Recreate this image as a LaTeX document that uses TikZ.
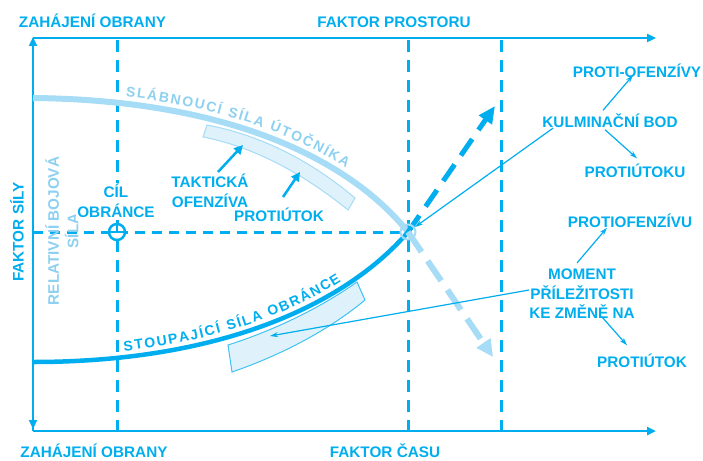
\documentclass[tikz,border=0pt]{standalone}
\usepackage{fontspec}
\setmainfont{Liberation Sans}
\usetikzlibrary{arrows.meta,decorations.text}
\definecolor{cy}{HTML}{00AEEF}
\definecolor{lcy}{HTML}{A6DCF5}
\definecolor{ltx}{HTML}{8DD0F0}
\definecolor{bandfill}{HTML}{DFF2FB}
\newcommand\lbfont{\bfseries\fontsize{15.3}{19.5}\selectfont}
\newcommand\cvfont{\bfseries\fontsize{14}{16}\selectfont}
\begin{document}
\begin{tikzpicture}[x=1pt,y=1pt,
  lbl/.style={font=\lbfont, text=cy, inner sep=0pt, text height=11pt, text depth=0pt},
  mlbl/.style={font=\lbfont, text=cy, inner sep=0pt, align=center},
  axis/.style={draw=cy, line width=2.5pt},
  guide/.style={draw=cy, line width=3pt, dash pattern=on 12pt off 8pt},
  hguide/.style={draw=cy, line width=3pt, dash pattern=on 10pt off 7pt},
  ptr/.style={draw=cy, line width=1.2pt, -{Stealth[length=8pt,width=5pt]}},
  shortarr/.style={draw=cy, line width=2.5pt, -{Triangle[length=9pt,width=9pt]}},
  band/.style={fill=bandfill, line width=1pt},
  tip/.style={-{Triangle[length=9pt,width=8pt]}}
]
\path[use as bounding box] (0,0) rectangle (703,-460);

% axes coordinates
\coordinate (tl) at (33,-38);
\coordinate (tr) at (656,-38);
\coordinate (bl) at (33,-431);
\coordinate (br) at (656,-431);
\coordinate (vt) at (33,-37);
\coordinate (vb) at (33,-429);

% axes
\draw[axis] (tl) -- (bl);
\draw[axis, tip] (tl) -- (tr);
\draw[axis, tip] (bl) -- (br);
\draw[axis, {Triangle[length=9pt,width=8pt]}-{Triangle[length=9pt,width=8pt]}] (vt) -- (vb);

% dashed guides
\coordinate (g1t) at (117,-40);  \coordinate (g1b) at (117,-431);
\coordinate (g2t) at (408,-40);  \coordinate (g2b) at (408,-431);
\coordinate (g3t) at (501,-40);  \coordinate (g3b) at (501,-431);
\coordinate (h0) at (33,-232);
\draw[guide] (g1t) -- (g1b);
\draw[guide] (g2t) -- (g2b);
\draw[guide] (g3t) -- (g3b);
\draw[hguide] (h0) -- (408,-232);

% bands
\draw[band, draw=lcy] (207,-125) .. controls (260,-135) and (310,-160) .. (355,-198)
   -- (348,-210) .. controls (305,-175) and (255,-147) .. (203,-137) -- cycle;
\draw[band, draw=cy!75] (228,-345) .. controls (275,-330) and (320,-308) .. (357,-282)
   -- (365,-300) .. controls (335,-325) and (290,-352) .. (232,-372) -- cycle;

% culmination point
\coordinate (Xc) at (408,-232);
\coordinate (a0) at (33,-98);
\coordinate (d0) at (33,-362);

% curves
\draw[lcy, line width=6pt] (a0) .. controls (230,-100) and (350,-160) .. (Xc);
\draw[cy, line width=4.5pt] (d0) .. controls (220,-362) and (345,-305) .. (Xc);

% curve texts
\path[decorate, decoration={text along path,
   text={|\color{ltx}\cvfont|SLÁBNOUCÍ SÍLA ÚTOČNÍKA},
   text align={fit to path, left indent=92pt, right indent=88pt}, raise=7pt}]
   (a0) .. controls (230,-100) and (350,-160) .. (Xc);
\path[decorate, decoration={text along path,
   text={|\color{cy}\cvfont|STOUPAJÍCÍ SÍLA OBRÁNCE},
   text align={fit to path, left indent=92pt, right indent=84pt}, raise=6pt}]
   (d0) .. controls (220,-362) and (345,-305) .. (Xc);

% dashed arrows from culmination
\coordinate (up) at (495,-106);
\coordinate (down) at (493,-357);
\draw[cy, line width=5pt, dash pattern=on 20pt off 11pt, -{Triangle[length=17pt,width=15pt]}] (Xc) -- (up);
\draw[lcy, line width=6pt, dash pattern=on 24pt off 11pt, -{Triangle[length=17pt,width=16pt]}] (Xc) -- (down);

\node[circle, draw=lcy, line width=2pt, minimum size=15pt, inner sep=0pt] (X) at (Xc) {};

% goal symbol
\node[circle, draw=cy, fill=white, line width=2.5pt, minimum size=16pt, inner sep=0pt] (goal) at (117,-232) {};
\draw[cy, line width=2pt] (goal.west) -- (goal.east);
\draw[cy, line width=2pt] (goal.center) -- (goal.north);

% labels
\node[lbl] (zo1) at (92.5,-22) {ZAHÁJENÍ OBRANY};
\node[lbl] (fp) at (394,-22) {FAKTOR PROSTORU};
\node[lbl] (zo2) at (94,-452) {ZAHÁJENÍ OBRANY};
\node[lbl] (fc) at (385,-452) {FAKTOR ČASU};
\node[lbl, rotate=90] (fs) at (18,-232) {FAKTOR SÍLY};
\node[mlbl, text=ltx, rotate=90] (rbs) at (62,-231) {RELATIVNÍ BOJOVÁ\\SÍLA};
\node[mlbl, fill=white, inner sep=1pt] (cil) at (116,-201) {CÍL\\OBRÁNCE};
\node[mlbl] (tak) at (210,-191) {TAKTICKÁ\\OFENZÍVA};
\node[lbl] (pu1) at (279,-216) {PROTIÚTOK};
\node[lbl] (pov) at (637,-72) {PROTI-OFENZÍVY};
\node[lbl] (kb) at (610,-122) {KULMINAČNÍ BOD};
\node[lbl] (puk) at (635,-172) {PROTIÚTOKU};
\node[lbl] (pof) at (630,-222) {PROTIOFENZÍVU};
\node[mlbl] (mom) at (582,-294) {MOMENT\\PŘÍLEŽITOSTI\\KE ZMĚNĚ NA};
\node[lbl] (pu2) at (642,-362) {PROTIÚTOK};

% short arrows into attacker band
\coordinate (ta1) at (218,-172);
\coordinate (ta2) at (283,-197);
\coordinate (bA1) at (243,-145);
\coordinate (bA2) at (300,-172);
\draw[shortarr] (ta1) -- (bA1);
\draw[shortarr] (ta2) -- (bA2);

% thin pointers
\coordinate (bD) at (270,-336);
\draw[ptr] ([shift={(11pt,-6pt)}]kb.west) -- (X);
\draw[ptr] ([shift={(-7pt,6pt)}]kb.north) -- ([shift={(-4pt,2.5pt)}]pov.south);
\draw[ptr] ([shift={(-5pt,-2pt)}]kb.south) -- ([shift={(2pt,8pt)}]puk.north);
\draw[ptr] ([shift={(-5pt,6pt)}]mom.north) -- ([xshift=-23pt]pof.south);
\draw[ptr] ([shift={(20pt,2pt)}]mom.south) -- ([shift={(-15pt,11pt)}]pu2.north);
\draw[ptr] ([yshift=4pt]mom.west) -- (bD);
\end{tikzpicture}
\end{document}
